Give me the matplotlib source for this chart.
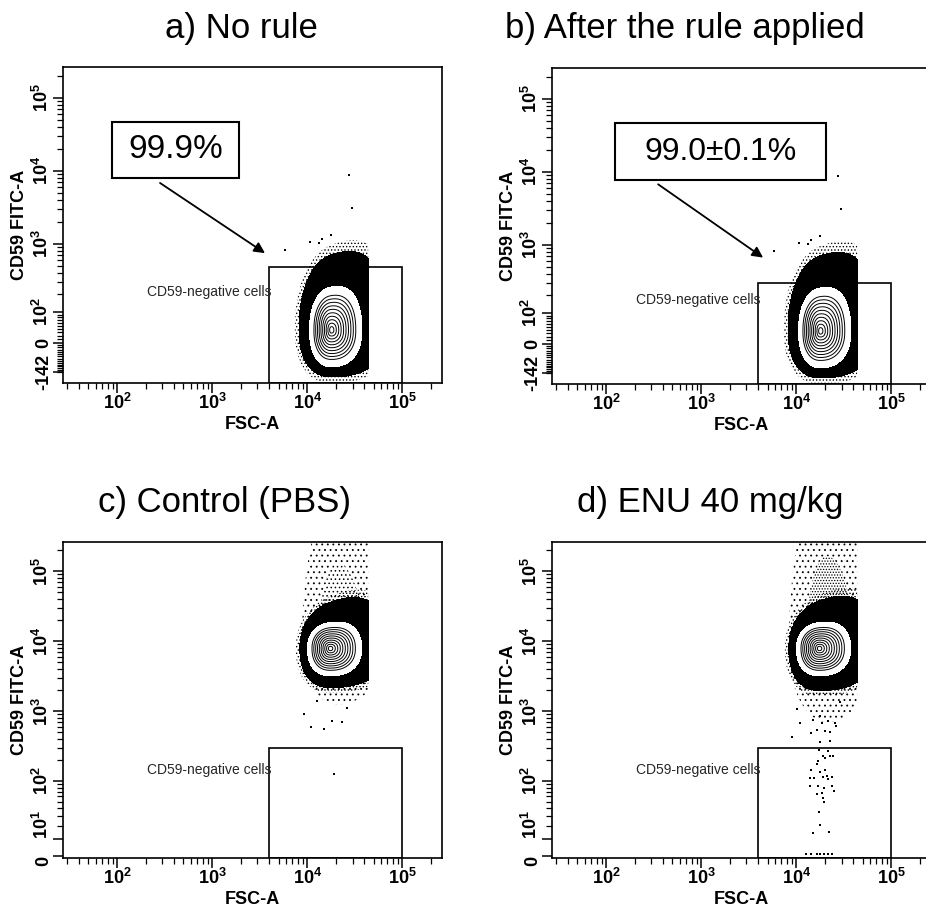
#!/usr/bin/env python3
"""CD59 FITC-A vs FSC-A gating panels (flow cytometry), four conditions."""
import numpy as np
import matplotlib
matplotlib.use("Agg")
import matplotlib.pyplot as plt
import matplotlib.ticker as ticker
from matplotlib.patches import Rectangle

plt.rcParams["font.family"] = ["Liberation Sans", "DejaVu Sans"]
plt.rcParams["mathtext.fontset"] = "custom"
plt.rcParams["mathtext.rm"] = "Liberation Sans"
plt.rcParams["mathtext.bf"] = "Liberation Sans:bold"
plt.rcParams["hatch.color"] = "black"
plt.rcParams["hatch.linewidth"] = 0.6

# ---- data -----------------------------------------------------------------
TITLES = ["a) No rule", "b) After the rule applied", "c) Control (PBS)", "d) ENU 40 mg/kg"]
GATE_LABEL = "CD59-negative cells"
GATE_PCT = ["99.9%", "99.0±0.1%", None, None]
GATE_FSC = [4000, 100000]
GATE_TOP = [480, 300, 300, 300]

FSC_LIM = [27, 262144]
FSC_TICKS = [1e2, 1e3, 1e4, 1e5]
FSC_TICK_LABELS = [r"$\mathbf{10^{2}}$", r"$\mathbf{10^{3}}$", r"$\mathbf{10^{4}}$", r"$\mathbf{10^{5}}$"]
FSC_CUT = 44000

# CD59 axis is biexponential: limits and (positive, negative) widths
CD59_LIM = [[-219, 262144], [-219, 262144], [-1, 262144], [-1, 262144]]
CD59_WIDTH = [[90, 133], [90, 133], [17, 17], [17, 17]]
CD59_TICKS_AB = [-142, 0, 1e2, 1e3, 1e4, 1e5]
CD59_LABELS_AB = ["-142", "0", r"$\mathbf{10^{2}}$", r"$\mathbf{10^{3}}$",
                  r"$\mathbf{10^{4}}$", r"$\mathbf{10^{5}}$"]
CD59_TICKS_CD = [0, 1e1, 1e2, 1e3, 1e4, 1e5]
CD59_LABELS_CD = ["0", r"$\mathbf{10^{1}}$", r"$\mathbf{10^{2}}$", r"$\mathbf{10^{3}}$",
                  r"$\mathbf{10^{4}}$", r"$\mathbf{10^{5}}$"]

# main population centre per panel
POP_FSC = [18000, 18000, 17500, 17500]
POP_CD59 = [36, 36, 7900, 7900]
# extents in display decades: left, right, down, up, tilt of upper edge
CLOUD = [[0.34, 0.60, 0.64, 1.03, 0.43], [0.34, 0.60, 0.64, 1.03, 0.43],
         [0.32, 0.60, 0.56, 0.66, 0.46], [0.32, 0.60, 0.60, 0.68, 0.46]]
CORE = [[0.23, 0.32, 0.50, 0.59, 0.24], [0.23, 0.32, 0.50, 0.59, 0.24],
        [0.24, 0.33, 0.39, 0.37, 0.17], [0.24, 0.33, 0.39, 0.37, 0.17]]
RING_LEVELS = [0.08, 0.16, 0.24, 0.32, 0.40, 0.48, 0.56, 0.64, 0.72, 0.80]

# sparse upper tail (c, d)
TAIL_FSC = [None, None, 21000, 21000]
TAIL = [None, None, [0.38, 0.50, 0.80, 2.20, 0.0], [0.40, 0.50, 1.05, 2.40, 0.0]]
TAIL_HATCH = [None, None, ["....", "..."], ["......", "..."]]

# scattered single events
STRAY_FSC_AB = [27600, 29800, 10700, 13300, 18000, 5900, 14400]
STRAY_CD59_AB = [8700, 3100, 1060, 1040, 1320, 820, 1150]
STRAY_FSC_C = [19000, 9300, 15100, 18300, 23000, 12700, 11000, 26000]
STRAY_CD59_C = [128, 925, 561, 730, 700, 1394, 600, 1100]
STRAY_FSC_D = [17500, 21800, 19000, 20300, 22700, 24600, 17100, 16400, 14500, 17800,
               20000, 20900, 14000, 15400, 19000, 23700, 21800, 14000, 17100, 19400,
               23700, 25100, 18500, 16700, 19000, 19800, 17500, 17800, 14900, 22200,
               12800, 14500, 16400, 17800, 19400, 21800, 23700,
               10100, 10900, 14500, 16400, 18500, 20000, 22700, 25700, 26300, 21800,
               17800, 15000, 29000, 18000, 22700, 9100]
STRAY_CD59_D = [277, 268, 233, 216, 228, 228, 193, 174, 144, 135,
                144, 118, 110, 110, 115, 114, 106, 84, 84, 80,
                84, 71, 68, 64, 57, 49, 34, 21, 14, 15,
                1, 1, 1, 1, 1, 1, 1,
                1076, 680, 490, 545, 680, 518, 507, 680, 610, 720,
                845, 758, 1340, 360, 377, 430]

# panel boxes in pixels (left, top) on a 926x910 canvas
PANEL_LEFT = [63, 552, 63, 552]
PANEL_TOP = [67, 68, 542, 542]
PANEL_W, PANEL_H = 379, 316
TITLE_X = [241, 685, 224, 710]
TITLE_BASE = [38, 38, 512, 512]
LABEL_Y = [0.288, 0.267, 0.279, 0.279]
PCT_BOX = [[0.129, 0.649, 0.335, 0.177], [0.166, 0.644, 0.557, 0.181], None, None]
ARROW = [[(0.256, 0.633), (0.533, 0.411)], [(0.280, 0.632), (0.557, 0.400)], None, None]
PCT_SIZE = [24, 23, None, None]


def biex(wp, wn):
    def fwd(y):
        y = np.asarray(y, dtype=float)
        return np.where(y >= 0, np.arcsinh(y / wp), np.arcsinh(y / wn))

    def inv(t):
        t = np.asarray(t, dtype=float)
        return np.where(t >= 0, wp * np.sinh(t), wn * np.sinh(t))
    return fwd, inv


def shape_radius(U, V, u0, v0, ext, p=2.2):
    left, right, down, up, tilt = ext
    du = U - u0
    dv = V - v0
    ex = np.where(du < 0, left, right)
    ey = np.where(dv < 0, down, np.maximum(up + tilt * du, 0.05))
    return (np.abs(du / ex) ** p + np.abs(dv / ey) ** p) ** (1.0 / p)


def style_axes(ax, i):
    ax.set_xscale("log")
    ax.set_xlim(FSC_LIM)
    ax.xaxis.set_major_locator(ticker.FixedLocator(FSC_TICKS))
    ax.xaxis.set_major_formatter(ticker.FixedFormatter(FSC_TICK_LABELS))
    xminor = [k * 10 ** e for e in range(1, 6) for k in range(2, 10)
              if FSC_LIM[0] < k * 10 ** e < FSC_LIM[1]]
    ax.xaxis.set_minor_locator(ticker.FixedLocator(xminor))
    ax.xaxis.set_minor_formatter(ticker.NullFormatter())
    ax.tick_params(axis="x", labelsize=13, pad=0)

    if i < 2:
        ticks, labels = CD59_TICKS_AB, CD59_LABELS_AB
        yminor = list(range(-140, 0, 10)) + list(range(10, 100, 10))
    else:
        ticks, labels = CD59_TICKS_CD, CD59_LABELS_CD
        yminor = list(range(20, 100, 10))
    yminor += [k * 10 ** e for e in range(2, 6) for k in range(2, 10) if k * 10 ** e < 262144]
    ax.set_yticks(ticks, labels=labels, rotation=90, va="center", fontsize=13, fontweight="bold")
    if i >= 2:
        # keep the "0" label clear of the 10^1 label just above it
        ax.get_yticklabels()[0].set_va("top")
        ax.get_yticklabels()[1].set_va("bottom")
    ax.yaxis.set_minor_locator(ticker.FixedLocator(yminor))
    ax.yaxis.set_minor_formatter(ticker.NullFormatter())
    ax.tick_params(axis="y", pad=1)

    ax.tick_params(which="major", direction="out", length=7, width=1.1)
    ax.tick_params(which="minor", direction="out", length=4, width=0.9)
    for s in ax.spines.values():
        s.set_linewidth(1.2)

    ax.set_xlabel("FSC-A", fontsize=13, fontweight="bold", va="top")
    ax.xaxis.set_label_coords(0.5, -0.105)
    ax.set_ylabel("CD59 FITC-A", fontsize=13, fontweight="bold", va="bottom")
    ax.yaxis.set_label_coords(-0.093, 0.5)


def draw_population(ax, i, fwd, inv):
    ln10 = np.log(10)
    vlo, vhi = fwd(CD59_LIM[i][0]) / ln10, fwd(CD59_LIM[i][1]) / ln10
    U, V = np.meshgrid(np.linspace(3.4, 4.9, 600), np.linspace(vlo, vhi, 700))
    X = 10 ** U
    Y = inv(V * ln10)
    ucut = np.log10(FSC_CUT)
    u0 = np.log10(POP_FSC[i])
    v0 = fwd(POP_CD59[i]) / ln10

    if TAIL[i] is not None:
        rt = shape_radius(U, V, np.log10(TAIL_FSC[i]), v0, TAIL[i], p=2.0)
        rt = np.where(U > ucut, 9, rt)
        ax.contourf(X, Y, rt, levels=[0, 0.55, 1.0], colors="none",
                    hatches=TAIL_HATCH[i], zorder=2)

    r_out = shape_radius(U, V, u0, v0, CLOUD[i], p=2.3)
    r_out = np.where(U > ucut, 9, r_out)
    ax.contourf(X, Y, r_out, levels=[1.0, 1.13], colors="none", hatches=["....."], zorder=2)
    ax.contourf(X, Y, r_out, levels=[0, 1.0], colors="black", zorder=2)

    r_in = shape_radius(U, V, u0, v0, CORE[i], p=2.3)
    ax.contourf(X, Y, r_in, levels=[0, 1.0], colors="white", zorder=2.1)
    ax.contour(X, Y, r_in, levels=RING_LEVELS, colors="black", linewidths=0.7, zorder=2.2)


def main():
    fig = plt.figure(figsize=(9.26, 9.10), dpi=100)
    W, H = 926, 910

    for i in range(4):
        ax = fig.add_axes([PANEL_LEFT[i] / W, 1 - (PANEL_TOP[i] + PANEL_H) / H,
                           PANEL_W / W, PANEL_H / H])
        fwd, inv = biex(*CD59_WIDTH[i])
        ax.set_yscale("function", functions=(fwd, inv))
        ax.set_ylim(CD59_LIM[i])
        style_axes(ax, i)
        ax.set_ylim(CD59_LIM[i])

        # gate
        ax.add_patch(Rectangle((GATE_FSC[0], CD59_LIM[i][0]), GATE_FSC[1] - GATE_FSC[0],
                               GATE_TOP[i] - CD59_LIM[i][0], fill=False, ec="black",
                               lw=1.2, zorder=1))
        ax.text(0.549, LABEL_Y[i], GATE_LABEL, transform=ax.transAxes, ha="right",
                va="center", fontsize=10, color="0.15", zorder=3)

        draw_population(ax, i, fwd, inv)

        if i < 2:
            ax.scatter(STRAY_FSC_AB, STRAY_CD59_AB, s=2, c="k", marker="s", linewidths=0, zorder=3)
        elif i == 2:
            ax.scatter(STRAY_FSC_C, STRAY_CD59_C, s=2, c="k", marker="s", linewidths=0, zorder=3)
        else:
            ax.scatter(STRAY_FSC_D, STRAY_CD59_D, s=3, c="k", marker="s", linewidths=0, zorder=3)

        if GATE_PCT[i] is not None:
            x0, y0, w, h = PCT_BOX[i]
            ax.add_patch(Rectangle((x0, y0), w, h, transform=ax.transAxes, fc="white",
                                   ec="black", lw=1.5, zorder=5, clip_on=False))
            ax.text(x0 + w / 2, y0 + h / 2, GATE_PCT[i], transform=ax.transAxes,
                    ha="center", va="center", fontsize=PCT_SIZE[i], zorder=6)
            tail, head = ARROW[i]
            ax.annotate("", xy=head, xytext=tail, xycoords="axes fraction",
                        textcoords="axes fraction",
                        arrowprops=dict(arrowstyle="-|>", color="black", lw=1.3,
                                        mutation_scale=16, shrinkA=0, shrinkB=0),
                        zorder=5)

        fig.text(TITLE_X[i] / W, 1 - TITLE_BASE[i] / H, TITLES[i], ha="center",
                 va="baseline", fontsize=25)

    fig.savefig("out.png", dpi=100)
    plt.close(fig)


if __name__ == "__main__":
    main()
